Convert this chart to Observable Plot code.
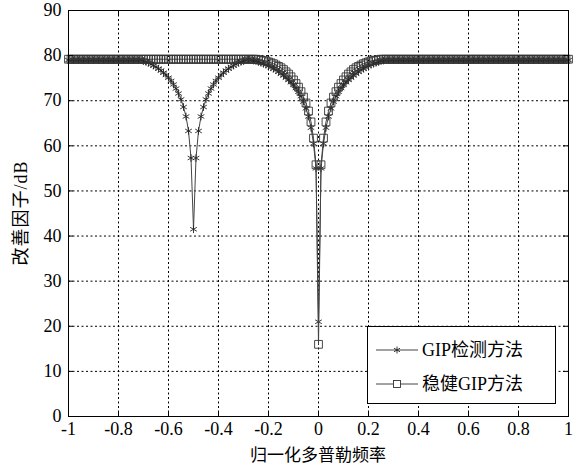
<!DOCTYPE html>
<html>
<head>
<meta charset="utf-8">
<script src="https://cdn.jsdelivr.net/npm/d3@7"></script>
<script src="https://cdn.jsdelivr.net/npm/@observablehq/plot@0.6"></script>
<style>
  html, body { margin: 0; padding: 0; background: #fff; }
  #wrap { position: relative; width: 581px; height: 467px; overflow: hidden;
          font-family: "Liberation Serif", "Noto Sans CJK SC", serif; color: #000; }
  #legend { position: absolute; left: 367px; top: 326px; width: 187px; height: 76px;
            border: 1px solid #000; background: #fff; }
  .row { position: absolute; left: 0; height: 24px; width: 187px; }
  .row svg { position: absolute; left: 0; top: 0; }
  .row span { position: absolute; left: 54px; top: 0; line-height: 24px; font-size: 18px; white-space: nowrap; }
  #xtitle { position: absolute; left: 318px; top: 445px; transform: translateX(-50%);
            font-size: 17px; line-height: 22px; white-space: nowrap; }
  #ytitle { position: absolute; left: 21px; top: 213px; transform: translate(-50%, -50%) rotate(-90deg);
            font-size: 18px; line-height: 22px; white-space: nowrap; letter-spacing: 1px; }
</style>
</head>
<body>
<div id="wrap">
  <div id="chart"></div>
  <div id="legend"></div>
  <div id="xtitle"></div>
  <div id="ytitle"></div>
</div>
<script>
// ---- data ----
const seriesNames = ["GIP检测方法", "稳健GIP方法"];
const xTitle = "归一化多普勒频率";
const yTitle = "改善因子/dB";
const xTicks = [-1, -0.8, -0.6, -0.4, -0.2, 0, 0.2, 0.4, 0.6, 0.8, 1];
const yTicks = [0, 10, 20, 30, 40, 50, 60, 70, 80, 90];

// normalized Doppler frequency samples, -1 ... 1 in steps of 0.01
const freq = d3.range(201).map(i => Math.round(-100 + i) / 100);

const gipValues = [
  79.0,79.0,79.0,79.0,79.0,79.0,79.0,79.0,79.0,79.0,
  79.0,79.0,79.0,79.0,79.0,79.0,79.0,79.0,79.0,79.0,
  79.0,79.0,79.0,79.0,79.0,79.0,79.0,79.0,79.0,79.0,
  78.8,78.6,78.4,78.1,77.8,77.5,77.1,76.7,76.2,75.7,
  75.1,74.4,73.6,72.7,71.6,70.3,68.6,66.5,63.3,57.3,
  41.5,57.3,63.3,66.5,68.6,70.3,71.6,72.7,73.6,74.4,
  75.1,75.7,76.2,76.7,77.1,77.5,77.8,78.1,78.4,78.6,
  78.8,79.0,79.1,79.0,78.9,78.8,78.6,78.4,78.2,78.0,
  77.7,77.4,77.1,76.8,76.4,76.0,75.6,75.1,74.6,74.1,
  73.5,72.8,72.0,71.0,69.8,68.3,66.5,64.0,60.5,55.0,
  21.0,
  55.0,60.5,64.0,66.5,68.3,69.8,71.0,72.0,72.8,73.5,
  74.1,74.6,75.1,75.6,76.0,76.4,76.8,77.1,77.4,77.7,
  78.0,78.2,78.4,78.6,78.8,78.9,79.0,79.0,79.0,79.0,
  79.0,79.0,79.0,79.0,79.0,79.0,79.0,79.0,79.0,79.0,
  79.0,79.0,79.0,79.0,79.0,79.0,79.0,79.0,79.0,79.0,
  79.0,79.0,79.0,79.0,79.0,79.0,79.0,79.0,79.0,79.0,
  79.0,79.0,79.0,79.0,79.0,79.0,79.0,79.0,79.0,79.0,
  79.0,79.0,79.0,79.0,79.0,79.0,79.0,79.0,79.0,79.0,
  79.0,79.0,79.0,79.0,79.0,79.0,79.0,79.0,79.0,79.0,
  79.0,79.0,79.0,79.0,79.0,79.0,79.0,79.0,79.0,79.0
];

const robustValues = [
  79.2,79.2,79.2,79.2,79.2,79.2,79.2,79.2,79.2,79.2,
  79.2,79.2,79.2,79.2,79.2,79.2,79.2,79.2,79.2,79.2,
  79.2,79.2,79.2,79.2,79.2,79.2,79.2,79.2,79.2,79.2,
  79.2,79.2,79.2,79.2,79.2,79.2,79.2,79.2,79.2,79.2,
  79.2,79.2,79.2,79.2,79.2,79.2,79.2,79.2,79.2,79.2,
  79.2,79.2,79.2,79.2,79.2,79.2,79.2,79.2,79.2,79.2,
  79.2,79.2,79.2,79.2,79.2,79.2,79.2,79.2,79.2,79.2,
  79.2,79.2,79.2,79.2,79.2,79.2,
  79.1,79.0,78.9,78.8,78.6,78.4,78.2,77.9,77.6,77.3,
  76.9,76.4,75.9,75.3,74.6,73.8,73.0,72.0,70.8,69.5,
  67.7,65.3,61.7,55.8,
  16.0,
  55.8,61.7,65.3,67.7,
  69.5,70.8,72.0,73.0,73.8,74.6,75.3,75.9,76.4,76.9,
  77.3,77.6,77.9,78.2,78.4,78.6,78.8,78.9,79.0,79.1,
  79.2,79.2,79.2,79.2,79.2,79.2,79.2,79.2,79.2,79.2,
  79.2,79.2,79.2,79.2,79.2,79.2,79.2,79.2,79.2,79.2,
  79.2,79.2,79.2,79.2,79.2,79.2,79.2,79.2,79.2,79.2,
  79.2,79.2,79.2,79.2,79.2,79.2,79.2,79.2,79.2,79.2,
  79.2,79.2,79.2,79.2,79.2,79.2,79.2,79.2,79.2,79.2,
  79.2,79.2,79.2,79.2,79.2,79.2,79.2,79.2,79.2,79.2,
  79.2,79.2,79.2,79.2,79.2,79.2,79.2,79.2,79.2,79.2,
  79.2,79.2,79.2,79.2,79.2,79.2
];

const data = freq.map((f, i) => ({ f, gip: gipValues[i], robust: robustValues[i] }));

const W = 581, H = 467, ML = 68, MR = 13, MT = 10, MB = 51;
const innerH = H - MT - MB, innerW = W - ML - MR;
const tickLen = 5;
const gridX = xTicks.slice(1, -1);
const gridY = yTicks.slice(1, -1);

const chart = Plot.plot({
  width: W, height: H,
  marginLeft: ML, marginRight: MR, marginTop: MT, marginBottom: MB,
  x: { domain: [-1, 1] },
  y: { domain: [0, 90] },
  style: { fontFamily: '"Liberation Serif", "Noto Sans CJK SC", serif', fontSize: "18px", color: "#000", background: "#fff", overflow: "visible" },
  marks: [
    Plot.ruleX(gridX, { stroke: "#000", strokeWidth: 1, strokeDasharray: "2,2.5" }),
    Plot.ruleY(gridY, { stroke: "#000", strokeWidth: 1, strokeDasharray: "2,2.5" }),
    Plot.line(data, { x: "f", y: "gip", stroke: "#444", strokeWidth: 1 }),
    Plot.dot(data, { x: "f", y: "gip", symbol: "asterisk", r: 3.6, stroke: "#222", strokeWidth: 0.9 }),
    Plot.line(data, { x: "f", y: "robust", stroke: "#444", strokeWidth: 1 }),
    Plot.dot(data, { x: "f", y: "robust", symbol: "square", r: 4.4, stroke: "#333", fill: "none", strokeWidth: 0.9 }),
    Plot.frame({ stroke: "#000", strokeWidth: 1 }),
    Plot.ruleX(xTicks, { stroke: "#000", insetTop: innerH - tickLen }),
    Plot.ruleX(xTicks, { stroke: "#000", insetBottom: innerH - tickLen }),
    Plot.ruleY(yTicks, { stroke: "#000", insetRight: innerW - tickLen }),
    Plot.ruleY(yTicks, { stroke: "#000", insetLeft: innerW - tickLen }),
    Plot.axisX({ ticks: xTicks, tickSize: 0, tickPadding: 6, tickFormat: d => String(d), label: null, fontSize: 18 }),
    Plot.axisY({ ticks: yTicks, tickSize: 0, tickPadding: 7, tickFormat: d => String(d), label: null, fontSize: 18 })
  ]
});
document.getElementById("chart").appendChild(chart);

document.getElementById("xtitle").textContent = xTitle;
document.getElementById("ytitle").textContent = yTitle;

// legend
const legend = document.getElementById("legend");
const markers = [
  `<line x1="8" y1="12" x2="50" y2="12" stroke="#444"/>
   <g stroke="#222" stroke-width="0.9">
     <line x1="29" y1="8.5" x2="29" y2="15.5"/>
     <line x1="26" y1="10.2" x2="32" y2="13.8"/>
     <line x1="26" y1="13.8" x2="32" y2="10.2"/>
   </g>`,
  `<line x1="8" y1="12" x2="50" y2="12" stroke="#444"/>
   <rect x="25.5" y="8.5" width="7" height="7" fill="#fff" stroke="#333" stroke-width="0.9"/>`
];
const rowTops = [11, 45];
seriesNames.forEach((name, i) => {
  const row = document.createElement("div");
  row.className = "row";
  row.style.top = rowTops[i] + "px";
  row.innerHTML = `<svg width="54" height="24">${markers[i]}</svg><span>${name}</span>`;
  legend.appendChild(row);
});
</script>
</body>
</html>
